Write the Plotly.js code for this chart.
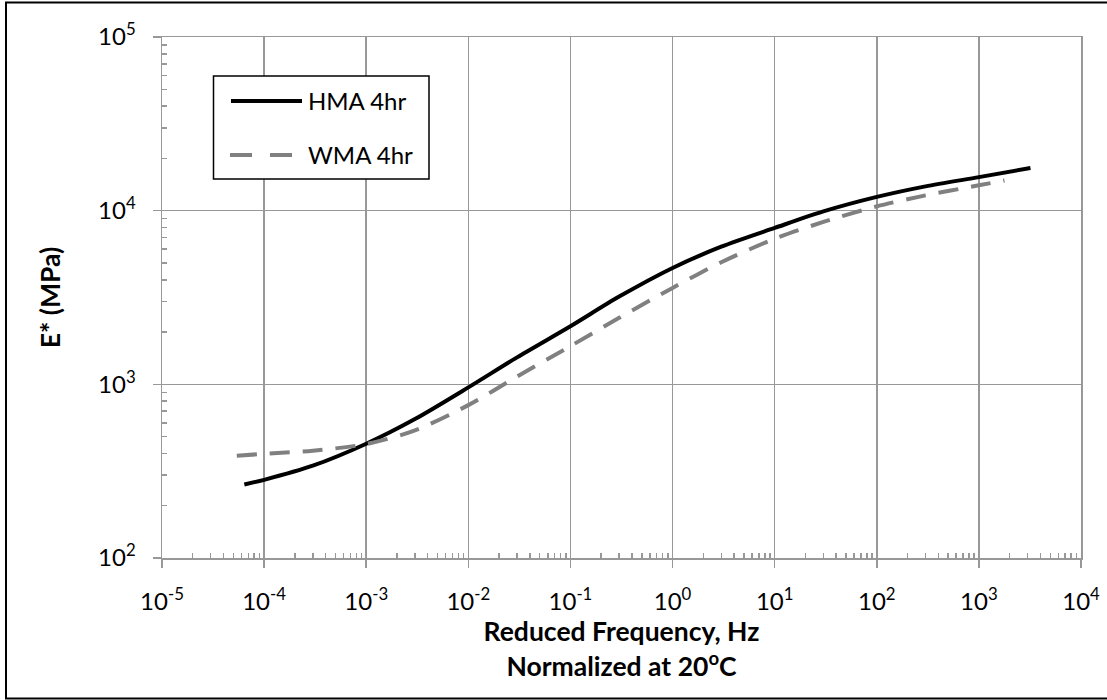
<!DOCTYPE html>
<html>
<head>
<meta charset="utf-8">
<script src="https://cdn.plot.ly/plotly-3.0.1.min.js"></script>
<style>
  html, body { margin: 0; padding: 0; background: #fff; }
  #chart { width: 1107px; height: 700px; }
</style>
</head>
<body>
<div id="chart"></div>
<script>
// ---- Data ----
const seriesNames = ["HMA 4hr", "WMA 4hr"];

const freqHMA = [6.4e-5, 1e-4, 3e-4, 1e-3, 3e-3, 1e-2, 3e-2, 1e-1, 3e-1, 1, 3, 10, 30, 100, 300, 1000, 3200];
const eHMA    = [265, 282, 340, 455, 631, 960, 1430, 2160, 3200, 4680, 6200, 7950, 9900, 12000, 13800, 15600, 17600];

const freqWMA = [5.4e-5, 1e-4, 3e-4, 1e-3, 3e-3, 1e-2, 3e-2, 1e-1, 3e-1, 1, 3, 10, 30, 100, 300, 1000, 1780];
const eWMA    = [388, 398, 415, 453, 543, 759, 1109, 1660, 2415, 3590, 5050, 6890, 8610, 10590, 12250, 14000, 14930];

// ---- Tick labels ----
const xTickVals = [1e-5, 1e-4, 1e-3, 1e-2, 1e-1, 1e0, 1e1, 1e2, 1e3, 1e4];
const xTickText = ["10<sup>-5</sup>", "10<sup>-4</sup>", "10<sup>-3</sup>", "10<sup>-2</sup>", "10<sup>-1</sup>",
                   "10<sup>0</sup>", "10<sup>1</sup>", "10<sup>2</sup>", "10<sup>3</sup>", "10<sup>4</sup>"];
const yTickVals = [1e2, 1e3, 1e4, 1e5];
const yTickText = ["10<sup>2</sup>", "10<sup>3</sup>", "10<sup>4</sup>", "10<sup>5</sup>"];

const xTitle = "<b>Reduced Frequency, Hz</b><br><b>Normalized at 20<sup>o</sup>C</b>";
const yTitle = "<b>E* (MPa)</b>";

// minor tick positions (2..9 within each decade)
function minorTicks(lo, hi) {
  const out = [];
  for (let d = lo; d < hi; d++) {
    for (let k = 2; k <= 9; k++) out.push(k * Math.pow(10, d));
  }
  return out;
}

const FONT = "Lato, 'Open Sans', 'Liberation Sans', Arial, sans-serif";
const GRID = "#989898";

const traces = [
  {
    x: freqHMA, y: eHMA, name: seriesNames[0], type: "scatter", mode: "lines",
    line: { color: "#000000", width: 4, shape: "spline", smoothing: 0.8 },
    showlegend: false
  },
  {
    x: freqWMA, y: eWMA, name: seriesNames[1], type: "scatter", mode: "lines",
    line: { color: "#808080", width: 4, dash: "20px,13px", shape: "spline", smoothing: 0.8 },
    showlegend: false
  }
];

// plot area geometry (pixels)
const L = 162, R = 26, T = 37, B = 142;
const W = 1107 - L - R, H = 700 - T - B;
const px = v => (v - L) / W;
const py = v => (700 - B - v) / H;

const layout = {
  width: 1107, height: 700,
  margin: { l: L, r: R, t: T, b: B, pad: 0 },
  paper_bgcolor: "#ffffff", plot_bgcolor: "#ffffff",
  font: { family: FONT, size: 24, color: "#000000" },
  showlegend: false,
  xaxis: {
    type: "log", range: [-5, 4],
    tickmode: "array", tickvals: xTickVals, ticktext: xTickText,
    ticks: "outside", ticklen: 8, tickwidth: 1.5, tickcolor: GRID,
    ticklabelstandoff: 14,
    showgrid: true, gridcolor: GRID, gridwidth: 1.5,
    showline: true, linecolor: GRID, linewidth: 1.5, mirror: true,
    zeroline: false,
    tickfont: { family: FONT, size: 24, color: "#000" },
    minor: { tickmode: "array", tickvals: minorTicks(-5, 4), ticks: "inside", ticklen: 5,
             tickwidth: 1.5, tickcolor: GRID, showgrid: false },
    title: { text: xTitle, font: { family: FONT, size: 26.5, color: "#000" }, standoff: 6 }
  },
  yaxis: {
    type: "log", range: [2, 5],
    tickmode: "array", tickvals: yTickVals, ticktext: yTickText,
    ticks: "outside", ticklen: 8, tickwidth: 1.5, tickcolor: GRID,
    ticklabelstandoff: 12,
    showgrid: true, gridcolor: GRID, gridwidth: 1.5,
    showline: true, linecolor: GRID, linewidth: 1.5, mirror: true,
    zeroline: false,
    tickfont: { family: FONT, size: 24, color: "#000" },
    minor: { tickmode: "array", tickvals: minorTicks(2, 5), ticks: "inside", ticklen: 5,
             tickwidth: 1.5, tickcolor: GRID, showgrid: false },
    title: { text: yTitle, font: { family: FONT, size: 26.5, color: "#000" }, standoff: 30 }
  },
  shapes: [
    // outer chart border
    { type: "rect", xref: "paper", yref: "paper",
      x0: px(6), x1: px(1112), y0: py(698.5), y1: py(2.5),
      line: { color: "#000", width: 2 }, fillcolor: "rgba(0,0,0,0)", layer: "above" },
    // legend box
    { type: "rect", xref: "paper", yref: "paper",
      x0: px(213.5), x1: px(429), y0: py(179), y1: py(76),
      line: { color: "#000", width: 1.5 }, fillcolor: "#ffffff", layer: "above" },
    // legend samples
    { type: "line", xref: "paper", yref: "paper",
      x0: px(231), x1: px(302), y0: py(101), y1: py(101),
      line: { color: "#000", width: 4 }, layer: "above" },
    { type: "line", xref: "paper", yref: "paper",
      x0: px(230), x1: px(293), y0: py(155), y1: py(155),
      line: { color: "#808080", width: 4, dash: "22px,18px" }, layer: "above" }
  ],
  annotations: [
    { xref: "paper", yref: "paper", x: px(306), y: py(101), xanchor: "left", yanchor: "middle",
      text: seriesNames[0], showarrow: false, font: { family: FONT, size: 24, color: "#000" } },
    { xref: "paper", yref: "paper", x: px(306), y: py(155), xanchor: "left", yanchor: "middle",
      text: seriesNames[1], showarrow: false, font: { family: FONT, size: 24, color: "#000" } }
  ]
};

Plotly.newPlot("chart", traces, layout, { displayModeBar: false, staticPlot: true });
</script>
</body>
</html>
